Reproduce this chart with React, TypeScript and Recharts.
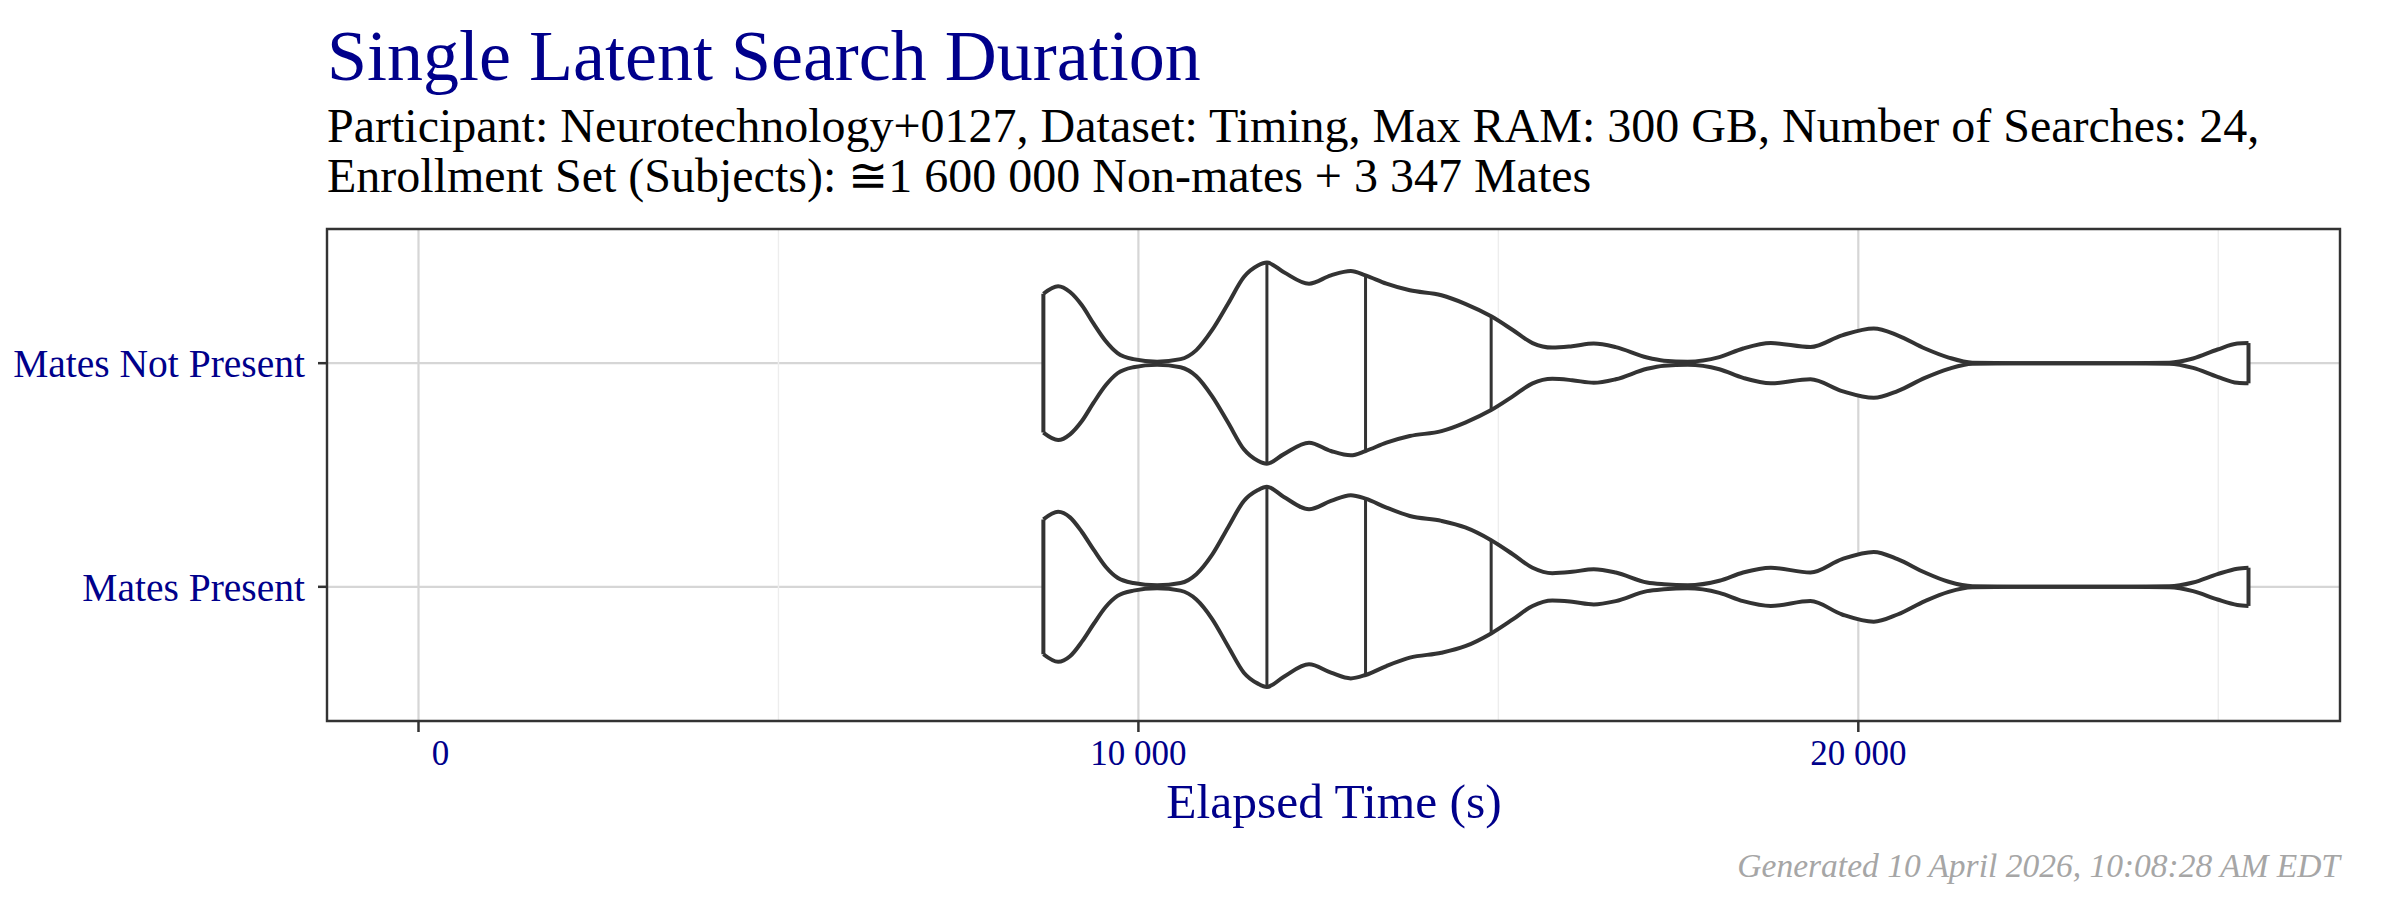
import React from "react";
import { ComposedChart, Area, XAxis, YAxis, CartesianGrid, ReferenceLine, ReferenceArea } from "recharts";

// elapsed time sample points (s) along each violin
const timeSec = [
  8680, 8885, 9050, 9215, 9380, 9545, 9710, 9930, 10260, 10585, 10805, 11025, 11245, 11465, 11660, 11785,
  12015, 12370, 12675, 12950, 13155, 13445, 13770, 14210, 14540, 14900, 15200, 15475, 15750, 16025, 16325,
  16630, 17065, 17300, 17630, 18070, 18400, 18785, 19335, 19775, 20215, 20545, 20925, 21255, 21585, 22500,
  23500, 24320, 24650, 24990, 25265, 25420,
];

// relative density (1 = widest point) for "Mates Not Present"
const densityNotPresent = [
  0.69, 0.764, 0.707, 0.575, 0.39, 0.22, 0.1, 0.04, 0.015, 0.04, 0.13, 0.33, 0.59, 0.856, 0.97, 1.0,
  0.906, 0.79, 0.873, 0.916, 0.873, 0.79, 0.724, 0.675, 0.59, 0.466, 0.33, 0.2, 0.155, 0.169, 0.195,
  0.16, 0.056, 0.025, 0.015, 0.06, 0.146, 0.2, 0.16, 0.277, 0.344, 0.277, 0.146, 0.056, 0.005, 0,
  0, 0.005, 0.047, 0.136, 0.195, 0.2,
];

// relative density for "Mates Present"
const densityPresent = [
  0.67, 0.745, 0.69, 0.545, 0.367, 0.2, 0.09, 0.038, 0.015, 0.038, 0.126, 0.32, 0.59, 0.853, 0.962, 0.995,
  0.896, 0.77, 0.853, 0.91, 0.876, 0.787, 0.704, 0.655, 0.59, 0.463, 0.324, 0.19, 0.136, 0.149, 0.175,
  0.142, 0.043, 0.025, 0.015, 0.06, 0.142, 0.19, 0.142, 0.275, 0.347, 0.275, 0.142, 0.05, 0.005, 0,
  0, 0.005, 0.043, 0.126, 0.18, 0.19,
];

// 25 / 50 / 75 % quantiles (s)
const quantilesSec = [11785, 13155, 14900];

const categories = ["Mates Present", "Mates Not Present"];
const xTicks = [0, 10000, 20000];
const xTickLabels = ["     0", "10 000", "20 000"];
const xMinorTicks = [5000, 15000, 25000];

const HALF = 0.45;
const INK = "#333333";
const BLUE = "#00008B";
const FONT = "'Liberation Serif', 'Times New Roman', serif";

const xMin = Math.min(0, ...timeSec);
const xMax = Math.max(...timeSec);
const xPad = (xMax - xMin) * 0.05;
const xDomain = [xMin - xPad, xMax + xPad];

const rows = timeSec.map((t, i) => ({
  t,
  present: [1 - densityPresent[i] * HALF, 1 + densityPresent[i] * HALF],
  notPresent: [2 - densityNotPresent[i] * HALF, 2 + densityNotPresent[i] * HALF],
}));

const violins = [
  { key: "present", pos: 1, dens: densityPresent },
  { key: "notPresent", pos: 2, dens: densityNotPresent },
];

function XTick({ x, y, payload }: any) {
  const label = xTickLabels[xTicks.indexOf(payload.value)];
  return (
    <text x={x} y={y} dy={33} textAnchor="middle" xmlSpace="preserve" style={{ whiteSpace: "pre" }} fill={BLUE} fontSize={35} fontFamily={FONT}>
      {label}
    </text>
  );
}

export default function App() {
  const last = timeSec.length - 1;
  return (
    <div style={{ position: "absolute", left: 0, top: 0, width: 2400, height: 900, background: "#fff" }}>
      <ComposedChart width={2400} height={900} data={rows} margin={{ top: 229, right: 60, bottom: 0, left: 0 }}>
        <CartesianGrid stroke="#d6d6d6" strokeWidth={2.2} />
        {xMinorTicks.map((v) => (
          <ReferenceLine key={v} x={v} stroke="#ededed" strokeWidth={1.4} zIndex={-90} />
        ))}
        <XAxis
          type="number"
          dataKey="t"
          domain={xDomain}
          allowDataOverflow
          ticks={xTicks}
          tick={<XTick />}
          tickSize={11}
          tickMargin={0}
          tickLine={{ stroke: INK, strokeWidth: 2.5 }}
          axisLine={false}
          height={179}
        />
        <YAxis
          type="number"
          domain={[0.4, 2.6]}
          allowDataOverflow
          ticks={[1, 2]}
          tickFormatter={(v: number) => categories[v - 1]}
          tick={{ fill: BLUE, fontSize: 39.5, fontFamily: FONT }}
          tickSize={9}
          tickMargin={13}
          tickLine={{ stroke: INK, strokeWidth: 2.5 }}
          axisLine={false}
          width={327}
        />
        {violins.map((v) => (
          <Area
            key={v.key}
            type="monotone"
            dataKey={v.key}
            stroke={INK}
            strokeWidth={4}
            fill="#ffffff"
            fillOpacity={1}
            dot={false}
            activeDot={false}
            isAnimationActive={false}
          />
        ))}
        {violins.flatMap((v) =>
          [0, last].map((i) => (
            <ReferenceLine
              key={`${v.key}-end-${i}`}
              segment={[
                { x: timeSec[i], y: v.pos - v.dens[i] * HALF },
                { x: timeSec[i], y: v.pos + v.dens[i] * HALF },
              ]}
              stroke={INK}
              strokeWidth={4}
              zIndex={700}
            />
          ))
        )}
        {violins.flatMap((v) =>
          quantilesSec.map((q) => {
            const i = timeSec.indexOf(q);
            return (
              <ReferenceLine
                key={`${v.key}-q-${q}`}
                segment={[
                  { x: q, y: v.pos - v.dens[i] * HALF },
                  { x: q, y: v.pos + v.dens[i] * HALF },
                ]}
                stroke={INK}
                strokeWidth={3}
                zIndex={700}
              />
            );
          })
        )}
        <ReferenceArea
          x1={xDomain[0]}
          x2={xDomain[1]}
          y1={0.4}
          y2={2.6}
          fill="none"
          fillOpacity={0}
          stroke={INK}
          strokeWidth={2.4}
          ifOverflow="visible"
          zIndex={800}
        />
      </ComposedChart>
      <svg width={2400} height={900} style={{ position: "absolute", left: 0, top: 0, pointerEvents: "none" }} fontFamily={FONT}>
        <text x={327} y={80} fontSize={72} fill={BLUE}>
          Single Latent Search Duration
        </text>
        <text x={327} y={142} fontSize={48} fill="#000">
          Participant: Neurotechnology+0127, Dataset: Timing, Max RAM: 300 GB, Number of Searches: 24,
        </text>
        <text x={327} y={192} fontSize={48} fill="#000">
          Enrollment Set (Subjects): ≅1 600 000 Non-mates + 3 347 Mates
        </text>
        <text x={1334} y={818} fontSize={49.5} fill={BLUE} textAnchor="middle">
          Elapsed Time (s)
        </text>
        <text x={2340} y={877} fontSize={33.5} fill="#a6a6a6" fontStyle="italic" textAnchor="end">
          Generated 10 April 2026, 10:08:28 AM EDT
        </text>
      </svg>
    </div>
  );
}
